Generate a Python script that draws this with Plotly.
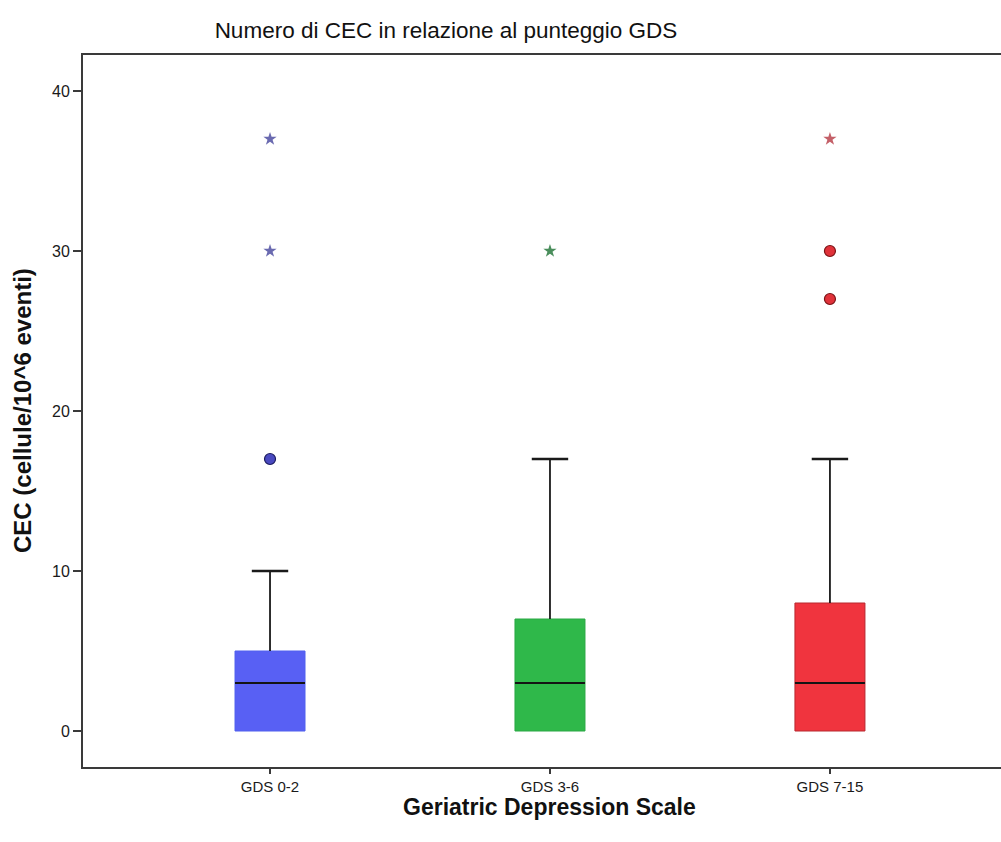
import plotly.graph_objects as go

# Summary statistics of CEC counts per GDS group
groups = ["GDS 0-2", "GDS 3-6", "GDS 7-15"]
q1 = [0, 0, 0]
medians = [3, 3, 3]
q3 = [5, 7, 8]
whisker_low = [0, 0, 0]
whisker_high = [10, 17, 17]

# Outliers (circles) and extreme values (stars), per group
outliers = [[17], [], [27, 30]]
extremes = [[30, 37], [30], [37]]

fill_colors = ["#5860f4", "#2fb84a", "#f0343e"]
edge_colors = ["#5060ee", "#2aa844", "#b8282f"]
circle_fill = ["#4a4ac0", "#2fa84a", "#e0323a"]
circle_edge = ["#1c1c5e", "#145a22", "#7a1416"]
star_colors = ["#6a6ab0", "#4a8e5c", "#c46068"]

BOX_W = 0.25
CAP_W = 0.065
FONT = "Arial, Liberation Sans, sans-serif"

fig = go.Figure()

for i, g in enumerate(groups):
    # Coloured box from Q1 to Q3
    fig.add_trace(go.Box(
        x=[i], q1=[q1[i]], median=[medians[i]], q3=[q3[i]],
        lowerfence=[q1[i]], upperfence=[q3[i]],
        width=BOX_W, whiskerwidth=0,
        fillcolor=fill_colors[i],
        line=dict(color=edge_colors[i], width=1),
        name=g, showlegend=False, hoverinfo="skip",
    ))

# Whiskers
wx, wy = [], []
for i in range(len(groups)):
    wx += [i, i, None]
    wy += [q3[i], whisker_high[i], None]
    if whisker_low[i] < q1[i]:
        wx += [i, i, None]
        wy += [q1[i], whisker_low[i], None]
fig.add_trace(go.Scatter(x=wx, y=wy, mode="lines",
                         line=dict(color="#1a1a1a", width=1.8),
                         showlegend=False, hoverinfo="skip"))

# Whisker caps
cx, cy = [], []
for i in range(len(groups)):
    cx += [i - CAP_W, i + CAP_W, None]
    cy += [whisker_high[i], whisker_high[i], None]
fig.add_trace(go.Scatter(x=cx, y=cy, mode="lines",
                         line=dict(color="#1a1a1a", width=2.6),
                         showlegend=False, hoverinfo="skip"))

# Median lines
mx, my = [], []
for i in range(len(groups)):
    mx += [i - BOX_W / 2, i + BOX_W / 2, None]
    my += [medians[i], medians[i], None]
fig.add_trace(go.Scatter(x=mx, y=my, mode="lines",
                         line=dict(color="#141414", width=2.2),
                         showlegend=False, hoverinfo="skip"))

# Outliers and extremes
for i in range(len(groups)):
    if outliers[i]:
        fig.add_trace(go.Scatter(
            x=[i] * len(outliers[i]), y=outliers[i], mode="markers",
            marker=dict(symbol="circle", size=11, color=circle_fill[i],
                        line=dict(color=circle_edge[i], width=1.2)),
            showlegend=False, hoverinfo="y"))
    if extremes[i]:
        fig.add_trace(go.Scatter(
            x=[i] * len(extremes[i]), y=extremes[i], mode="markers",
            marker=dict(symbol="star", size=10, color=star_colors[i],
                        line=dict(width=0)),
            showlegend=False, hoverinfo="y"))

fig.update_layout(
    width=1001, height=842,
    margin=dict(l=83, r=0, t=55, b=75),
    paper_bgcolor="white", plot_bgcolor="white",
    font=dict(family=FONT, size=15, color="#1a1a1a"),
    title=dict(text="Numero di CEC in relazione al punteggio GDS",
               x=446 / 1001, xref="container", xanchor="center",
               y=1 - 30 / 842, yref="container", yanchor="middle",
               font=dict(family=FONT, size=22.5, color="#111")),
    xaxis=dict(range=[-0.668, 2.611], tickvals=[0, 1, 2], ticktext=groups,
               showgrid=False, zeroline=False,
               showline=True, mirror=True, linecolor="#3a3a3a", linewidth=2,
               ticks="outside", ticklen=5, tickcolor="#3a3a3a", tickwidth=1.5,
               tickfont=dict(size=15)),
    yaxis=dict(range=[-2.25, 42.25], tickvals=[0, 10, 20, 30, 40],
               showgrid=False, zeroline=False,
               showline=True, linecolor="#3a3a3a", linewidth=2,
               ticks="outside", ticklen=8, tickcolor="#3a3a3a", tickwidth=1.5,
               tickfont=dict(size=16)),
    annotations=[
        dict(text="<b>Geriatric Depression Scale</b>", x=1, xref="x",
             y=-40 / 712, yref="paper", xanchor="center", yanchor="middle",
             showarrow=False, font=dict(family=FONT, size=23, color="#111")),
        dict(text="<b>CEC (cellule/10^6 eventi)</b>", x=-61 / 918, xref="paper",
             y=0.5, yref="paper", xanchor="center", yanchor="middle",
             textangle=-90, showarrow=False,
             font=dict(family=FONT, size=24, color="#111")),
    ],
)

fig.write_html("out.html")
